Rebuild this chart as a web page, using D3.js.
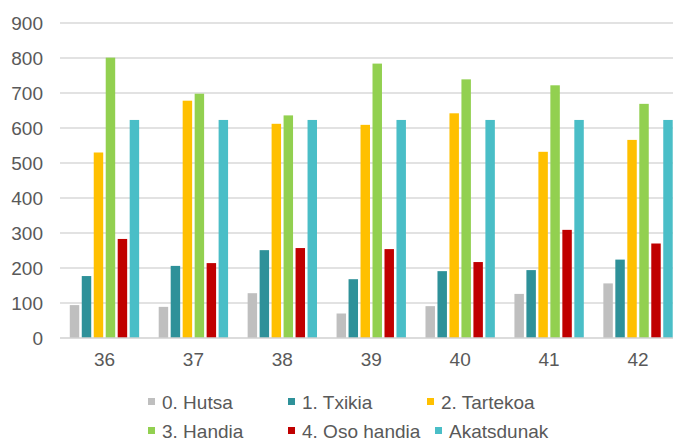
<!DOCTYPE html>
<html>
<head>
<meta charset="utf-8">
<script src="https://cdn.jsdelivr.net/npm/d3@7"></script>
<style>
  body { margin: 0; background: #fff; }
  text { font-family: "Liberation Sans", Arial, sans-serif; fill: #595959; }
</style>
</head>
<body>
<div id="chart-area"></div>
<script>
// data
var categories = ["36", "37", "38", "39", "40", "41", "42"];
var seriesNames = ["0. Hutsa", "1. Txikia", "2. Tartekoa", "3. Handia", "4. Oso handia", "Akatsdunak"];
var hutsa      = [94, 89, 128, 70, 91, 126, 156];
var txikia     = [177, 206, 251, 168, 191, 194, 224];
var tartekoa   = [530, 678, 612, 609, 642, 532, 566];
var handia     = [801, 698, 636, 784, 739, 722, 669];
var osoHandia  = [283, 214, 257, 254, 217, 309, 270];
var akatsdunak = [623, 623, 623, 623, 623, 623, 623];
var yTicks = [0, 100, 200, 300, 400, 500, 600, 700, 800, 900];

var seriesValues = [hutsa, txikia, tartekoa, handia, osoHandia, akatsdunak];
var colorList = ["#bfbfbf", "#2e9199", "#ffc000", "#92d050", "#c00000", "#4abec7"];

var width = 673, height = 443;
var plot = { left: 60, right: 682.5, top: 23, bottom: 338 };

var svg = d3.select("#chart-area").append("svg")
    .attr("width", width)
    .attr("height", height);

var x = d3.scaleBand()
    .domain(categories)
    .range([plot.left, plot.right])
    .paddingInner(0.22)
    .paddingOuter(0.11);

var xs = d3.scaleBand()
    .domain(seriesNames)
    .range([0, x.bandwidth()])
    .paddingInner(0.21)
    .paddingOuter(0);

var y = d3.scaleLinear()
    .domain([0, 900])
    .range([plot.bottom, plot.top]);

var color = d3.scaleOrdinal()
    .domain(seriesNames)
    .range(colorList);

// gridlines
svg.append("g")
    .selectAll("line")
    .data(yTicks.filter((d) => d > 0))
    .enter().append("line")
        .attr("x1", plot.left)
        .attr("x2", width)
        .attr("y1", (d) => y(d))
        .attr("y2", (d) => y(d))
        .attr("stroke", "#d9d9d9")
        .attr("stroke-width", 1.3);

// y labels
var leftAxis = d3.axisLeft(y)
    .tickValues(yTicks)
    .tickSize(0)
    .tickPadding(0);

var yAxis = svg.append("g")
    .attr("transform", "translate(43,0)")
    .call(leftAxis);
yAxis.select(".domain").remove();
yAxis.attr("font-family", null);
yAxis.selectAll("text")
    .attr("font-size", "19px")
    .attr("dy", "0.35em")
    .attr("fill", "#595959");

// bars
var groups = svg.append("g")
    .selectAll("g")
    .data(seriesNames)
    .enter().append("g")
        .attr("fill", (d) => color(d));

groups.selectAll("rect")
    .data((name, i) => seriesValues[i].map((v, j) => ({ name: name, cat: categories[j], value: v })))
    .enter().append("rect")
        .attr("x", (d) => x(d.cat) + xs(d.name))
        .attr("y", (d) => y(d.value))
        .attr("width", xs.bandwidth())
        .attr("height", (d) => y(0) - y(d.value));

// baseline
svg.append("line")
    .attr("x1", plot.left)
    .attr("x2", width)
    .attr("y1", y(0))
    .attr("y2", y(0))
    .attr("stroke", "#d0d0d0")
    .attr("stroke-width", 1.6);

// x labels
var bottomAxis = d3.axisBottom(x).tickSize(0).tickPadding(0);
var xAxis = svg.append("g")
    .attr("transform", "translate(0," + 366 + ")")
    .call(bottomAxis);
xAxis.select(".domain").remove();
xAxis.attr("font-family", null);
xAxis.selectAll("text")
    .attr("font-size", "19px")
    .attr("dy", 0)
    .attr("y", 0)
    .attr("fill", "#595959");

// legend (excel lays it out in two rows)
var legendX = [148, 288, 427, 148, 288, 435];
var legendY = [398, 398, 398, 427, 427, 427];

var legend = svg.append("g")
    .selectAll("g")
    .data(seriesNames)
    .enter().append("g")
        .attr("transform", (d, i) => "translate(" + legendX[i] + "," + legendY[i] + ")");

legend.append("rect")
    .attr("width", 7)
    .attr("height", 7)
    .attr("fill", (d) => color(d));

legend.append("text")
    .attr("x", 14)
    .attr("y", 11)
    .attr("font-size", "19px")
    .text((d) => d);
</script>
</body>
</html>
